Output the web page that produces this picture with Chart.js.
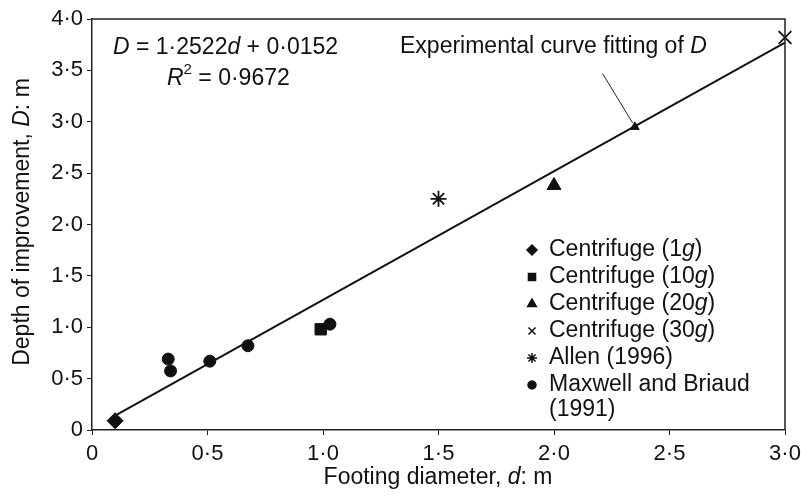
<!DOCTYPE html>
<html>
<head>
<meta charset="utf-8">
<script src="https://cdn.jsdelivr.net/npm/chart.js@4.4.1/dist/chart.umd.min.js"></script>
<style>
  html, body { margin: 0; padding: 0; background: #fff; }
  #wrap { width: 801px; height: 496px; }
</style>
</head>
<body>
<div id="wrap"><canvas id="chart"></canvas></div>
<script>
// Données (d en m, D en m)
const centrifuge1g = [[0.1, 0.09]];
const centrifuge10g = [[0.99, 0.98]];
const centrifuge20g = [[2.0, 2.38], [2.35, 2.95]];
const centrifuge30g = [[3.0, 3.82]];
const allen1996 = [[1.5, 2.25]];
const maxwellBriaud = [[0.33, 0.69], [0.34, 0.575], [0.51, 0.67], [0.675, 0.82], [1.03, 1.03]];
const fitLine = [[0.1, 0.14], [3.0, 3.77]];
const leaderLine = [[2.21, 3.47], [2.34, 2.99]];
const xTicks = [0, 0.5, 1.0, 1.5, 2.0, 2.5, 3.0];
const yTicks = [0, 0.5, 1.0, 1.5, 2.0, 2.5, 3.0, 3.5, 4.0];

const FONT = '"Liberation Sans", Arial, sans-serif';

function pts(arr) {
  return arr.map(p => ({ x: p[0], y: p[1] }));
}

function fmt(v) {
  if (v === 0) return '0';
  return v.toFixed(1).replace('.', '·');
}

// Texte avec morceaux en italique / exposant
function drawRich(ctx, parts, x, y, size) {
  let cx = x;
  parts.forEach(p => {
    const s = p.sup ? Math.round(size * 0.65) : size;
    ctx.font = (p.it ? 'italic ' : '') + s + 'px ' + FONT;
    ctx.fillText(p.t, cx, p.sup ? y - size * 0.38 : y);
    cx += ctx.measureText(p.t).width;
  });
  return cx - x;
}

function richWidth(ctx, parts, size) {
  let w = 0;
  parts.forEach(p => {
    const s = p.sup ? Math.round(size * 0.65) : size;
    ctx.font = (p.it ? 'italic ' : '') + s + 'px ' + FONT;
    w += ctx.measureText(p.t).width;
  });
  return w;
}

const series = [
  { label: [[{ t: 'Centrifuge (1' }, { t: 'g', it: true }, { t: ')' }]], data: centrifuge1g, style: 'rectRot', r: [8], lr: 5 },
  { label: [[{ t: 'Centrifuge (10' }, { t: 'g', it: true }, { t: ')' }]], data: centrifuge10g, style: 'rect', r: [8], lr: 5 },
  { label: [[{ t: 'Centrifuge (20' }, { t: 'g', it: true }, { t: ')' }]], data: centrifuge20g, style: 'triangle', r: [8, 5], lr: 5 },
  { label: [[{ t: 'Centrifuge (30' }, { t: 'g', it: true }, { t: ')' }]], data: centrifuge30g, style: 'crossRot', r: [9], lr: 5 },
  { label: [[{ t: 'Allen (1996)' }]], data: allen1996, style: 'star', r: [8], lr: 5 },
  { label: [[{ t: 'Maxwell and Briaud' }], [{ t: '(1991)' }]], data: maxwellBriaud, style: 'circle', r: [6], lr: 4 }
];

const annotations = {
  id: 'annotations',
  afterDatasetsDraw(chart) {
    const { ctx, chartArea } = chart;
    ctx.save();
    ctx.fillStyle = '#111';
    ctx.textBaseline = 'middle';
    ctx.textAlign = 'left';

    // cadre haut / droite
    ctx.strokeStyle = '#222';
    ctx.lineWidth = 1.5;
    ctx.beginPath();
    ctx.moveTo(chartArea.left, chartArea.top);
    ctx.lineTo(chartArea.right, chartArea.top);
    ctx.lineTo(chartArea.right, chartArea.bottom);
    ctx.stroke();

    // équation
    drawRich(ctx, [{ t: 'D', it: true }, { t: ' = 1·2522' }, { t: 'd', it: true }, { t: ' + 0·0152' }], 113, 48, 23);
    drawRich(ctx, [{ t: 'R', it: true }, { t: '2', sup: true }, { t: ' = 0·9672' }], 167, 79, 23);

    // étiquette de la courbe
    drawRich(ctx, [{ t: 'Experimental curve fitting of ' }, { t: 'D', it: true }], 400, 47, 23);

    // légende
    const lx = 532, tx = 549;
    let ly = 250;
    series.forEach(s => {
      ctx.fillStyle = '#111';
      ctx.strokeStyle = '#111';
      ctx.lineWidth = 1.5;
      Chart.helpers.drawPoint(ctx, { pointStyle: s.style, radius: s.lr, rotation: 0, borderWidth: 1.5 }, lx, ly);
      s.label.forEach((line, i) => {
        ctx.fillStyle = '#111';
        drawRich(ctx, line, tx, ly + i * 25, 23);
      });
      ly += 27;
    });

    // titres des axes
    ctx.fillStyle = '#111';
    const xt = [{ t: 'Footing diameter, ' }, { t: 'd', it: true }, { t: ': m' }];
    const xw = richWidth(ctx, xt, 23);
    drawRich(ctx, xt, 438 - xw / 2, 478, 23);

    const yt = [{ t: 'Depth of improvement, ' }, { t: 'D', it: true }, { t: ': m' }];
    const yw = richWidth(ctx, yt, 23);
    ctx.translate(23, 222);
    ctx.rotate(-Math.PI / 2);
    drawRich(ctx, yt, -yw / 2, 0, 23);
    ctx.restore();
  }
};

const datasets = series.map(s => ({
  type: 'scatter',
  label: s.label.map(l => l.map(p => p.t).join('')).join(' '),
  data: pts(s.data),
  clip: false,
  pointStyle: s.style,
  pointRadius: s.r,
  pointBackgroundColor: '#111',
  pointBorderColor: '#111',
  pointBorderWidth: (s.style === 'crossRot' || s.style === 'star') ? 1.8 : 1
}));

datasets.unshift({
  type: 'line',
  label: 'fit',
  data: pts(fitLine),
  borderColor: '#111',
  borderWidth: 2,
  pointRadius: 0,
  fill: false
});
datasets.unshift({
  type: 'line',
  label: 'leader',
  data: pts(leaderLine),
  borderColor: '#222',
  borderWidth: 1,
  pointRadius: 0,
  fill: false
});

new Chart(document.getElementById('chart'), {
  data: { datasets },
  plugins: [annotations],
  options: {
    responsive: true,
    maintainAspectRatio: false,
    animation: false,
    layout: { padding: { top: 19, right: 16, left: 0, bottom: 0 } },
    plugins: { legend: { display: false }, tooltip: { enabled: false } },
    scales: {
      x: {
        type: 'linear',
        min: 0,
        max: 3,
        afterFit: s => { s.height = 66; s.paddingRight = 0; s.paddingLeft = 0; },
        afterBuildTicks: s => { s.ticks = xTicks.map(v => ({ value: v })); },
        ticks: {
          color: '#111',
          font: { family: FONT, size: 22 },
          padding: 6,
          maxRotation: 0,
          callback: v => fmt(v)
        },
        grid: { drawOnChartArea: false, drawTicks: true, tickLength: 5, color: '#222' },
        border: { color: '#222', width: 1.5 }
      },
      y: {
        type: 'linear',
        min: 0,
        max: 4,
        afterFit: s => { s.width = 92; s.paddingTop = 0; s.paddingBottom = 0; },
        afterBuildTicks: s => { s.ticks = yTicks.map(v => ({ value: v })); },
        ticks: {
          color: '#111',
          font: { family: FONT, size: 22 },
          padding: 4,
          callback: v => fmt(v)
        },
        grid: { drawOnChartArea: false, drawTicks: true, tickLength: 5, color: '#222' },
        border: { color: '#222', width: 1.5 }
      }
    }
  }
});
</script>
</body>
</html>
